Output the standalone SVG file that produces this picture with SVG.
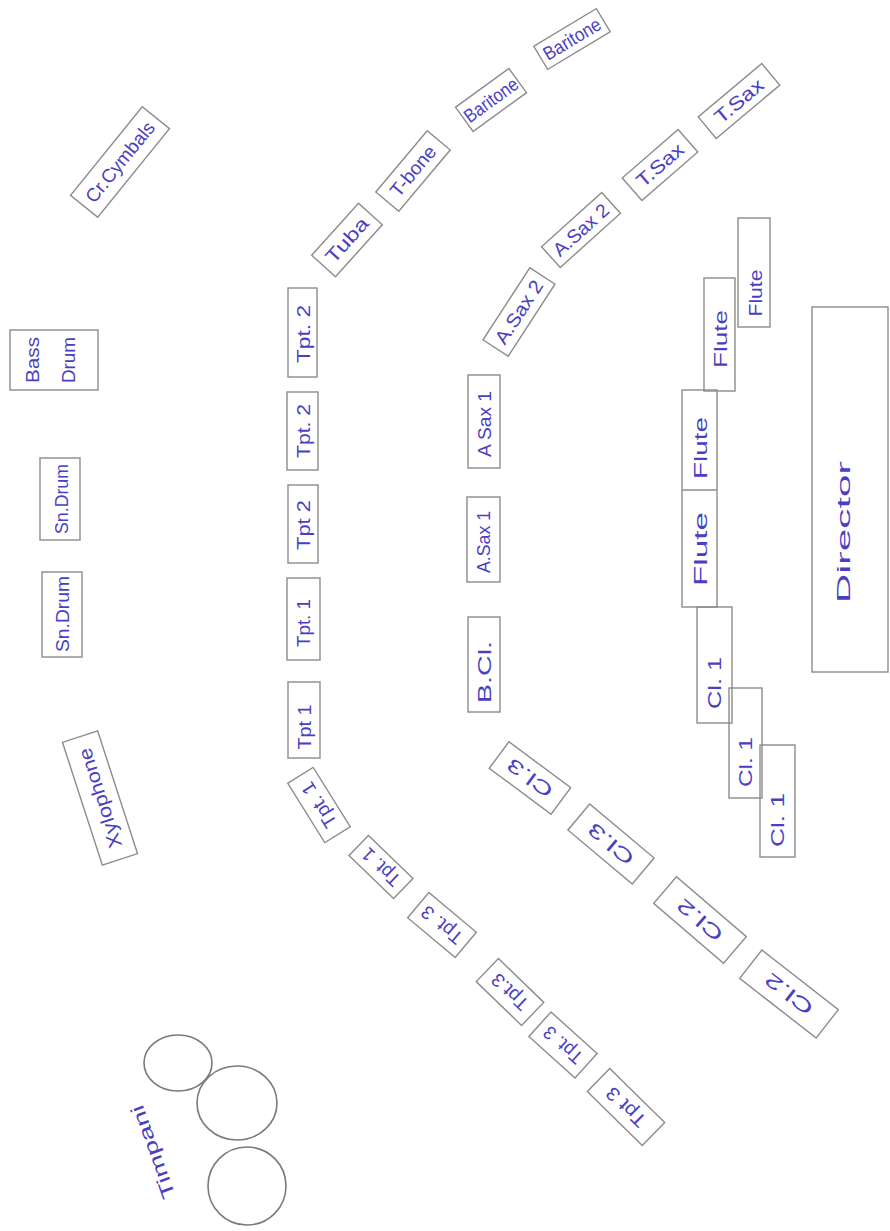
<svg xmlns="http://www.w3.org/2000/svg" width="890" height="1231" viewBox="0 0 890 1231">
<style>
.bx{fill:none;stroke:#8c8c8c;stroke-width:1.4}
.ln{fill:none;stroke:#8c8c8c;stroke-width:1.4}
.dr{fill:none;stroke:#7a7a7a;stroke-width:1.6}
.t{font-family:"Liberation Sans","DejaVu Sans",sans-serif;fill:#4a3fc2;text-anchor:middle;dominant-baseline:central;font-size:19px}
</style>
<rect width="890" height="1231" fill="#ffffff"/>

<!-- Percussion -->
<g id="cr-cymbals" transform="translate(120,162) rotate(-51)"><rect class="bx" x="-57" y="-17.5" width="114" height="35"/><text class="t" textLength="98" lengthAdjust="spacingAndGlyphs">Cr.Cymbals</text></g>
<g id="bass-drum"><rect class="bx" x="10" y="330" width="88" height="60"/><text class="t" font-size="22" transform="translate(32,360) rotate(-90)" textLength="46" lengthAdjust="spacingAndGlyphs">Bass</text><text class="t" font-size="22" transform="translate(68,360) rotate(-90)" textLength="46" lengthAdjust="spacingAndGlyphs">Drum</text></g>
<g id="sn-drum-1"><rect class="bx" x="40" y="458" width="40" height="82"/><text class="t" font-size="20" transform="translate(61,499) rotate(-90)" textLength="70" lengthAdjust="spacingAndGlyphs">Sn.Drum</text></g>
<g id="sn-drum-2"><rect class="bx" x="42" y="572" width="40" height="85"/><text class="t" font-size="20" transform="translate(62,614) rotate(-90)" textLength="76" lengthAdjust="spacingAndGlyphs">Sn.Drum</text></g>
<g id="xylophone" transform="translate(100,798) rotate(-108)"><rect class="bx" x="-64.5" y="-18.5" width="129" height="37"/><text class="t" font-size="20" textLength="104" lengthAdjust="spacingAndGlyphs">Xylophone</text></g>
<g id="timpani"><ellipse class="dr" cx="178" cy="1063" rx="34" ry="28"/><ellipse class="dr" cx="237" cy="1103" rx="40" ry="37"/><ellipse class="dr" cx="247" cy="1186" rx="39" ry="39"/><text class="t" font-size="24" transform="translate(153,1152) rotate(-110)" textLength="98" lengthAdjust="spacingAndGlyphs">Timpani</text></g>

<!-- Low brass row -->
<g id="tuba" transform="translate(347,240) rotate(-48)"><rect class="bx" x="-35" y="-16" width="70" height="32"/><text class="t" font-size="20" textLength="54" lengthAdjust="spacingAndGlyphs">Tuba</text></g>
<g id="t-bone" transform="translate(413,171) rotate(-50)"><rect class="bx" x="-40" y="-15" width="80" height="30"/><text class="t" font-size="19" textLength="60" lengthAdjust="spacingAndGlyphs">T-bone</text></g>
<g id="baritone-1" transform="translate(491,100) rotate(-36)"><rect class="bx" x="-33" y="-15" width="66" height="30"/><text class="t" font-size="18" textLength="62" lengthAdjust="spacingAndGlyphs">Baritone</text></g>
<g id="baritone-2" transform="translate(572,39) rotate(-31)"><rect class="bx" x="-36.5" y="-13.5" width="73" height="27"/><text class="t" font-size="17" textLength="64" lengthAdjust="spacingAndGlyphs">Baritone</text></g>

<!-- Trumpets -->
<g id="tpt2-a"><rect class="bx" x="288" y="288" width="29" height="89"/><text class="t" font-size="20" transform="translate(303,334) rotate(-90)" textLength="58" lengthAdjust="spacingAndGlyphs">Tpt. 2</text></g>
<g id="tpt2-b"><rect class="bx" x="287" y="392" width="31" height="78"/><text class="t" font-size="20" transform="translate(303,431) rotate(-90)" textLength="54" lengthAdjust="spacingAndGlyphs">Tpt. 2</text></g>
<g id="tpt2-c"><rect class="bx" x="288" y="485" width="30" height="78"/><text class="t" font-size="20" transform="translate(303,525) rotate(-90)" textLength="50" lengthAdjust="spacingAndGlyphs">Tpt 2</text></g>
<g id="tpt1-a"><rect class="bx" x="287" y="578" width="33" height="82"/><text class="t" font-size="20" transform="translate(303,623) rotate(-90)" textLength="48" lengthAdjust="spacingAndGlyphs">Tpt. 1</text></g>
<g id="tpt1-b"><rect class="bx" x="288" y="682" width="32" height="76"/><text class="t" font-size="20" transform="translate(304,727) rotate(-90)" textLength="45" lengthAdjust="spacingAndGlyphs">Tpt 1</text></g>
<g id="tpt1-c" transform="translate(319,805) rotate(58)"><rect class="bx" x="-35" y="-15" width="70" height="30"/><text class="t" font-size="19" transform="rotate(180)" textLength="50" lengthAdjust="spacingAndGlyphs">Tpt. 1</text></g>
<g id="tpt1-d" transform="translate(381,867) rotate(44)"><rect class="bx" x="-31" y="-14" width="62" height="28"/><text class="t" font-size="19" transform="rotate(180)" textLength="46" lengthAdjust="spacingAndGlyphs">Tpt. 1</text></g>
<g id="tpt3-a" transform="translate(442,925) rotate(40)"><rect class="bx" x="-31" y="-16.5" width="62" height="33"/><text class="t" font-size="19" transform="rotate(180)" textLength="48" lengthAdjust="spacingAndGlyphs">Tpt. 3</text></g>
<g id="tpt3-b" transform="translate(510,992) rotate(44)"><rect class="bx" x="-31.5" y="-16" width="63" height="32"/><text class="t" font-size="19" transform="rotate(180)" textLength="44" lengthAdjust="spacingAndGlyphs">Tpt.3</text></g>
<g id="tpt3-c" transform="translate(563,1045) rotate(42)"><rect class="bx" x="-31" y="-16.5" width="62" height="33"/><text class="t" font-size="19" transform="rotate(180)" textLength="46" lengthAdjust="spacingAndGlyphs">Tpt. 3</text></g>
<g id="tpt3-d" transform="translate(626,1107) rotate(44.5)"><rect class="bx" x="-38.5" y="-16" width="77" height="32"/><text class="t" font-size="19" transform="rotate(180)" textLength="48" lengthAdjust="spacingAndGlyphs">Tpt 3</text></g>

<!-- Saxes / bass clarinet -->
<g id="asax1-a"><rect class="bx" x="468" y="375" width="32" height="93"/><text class="t" font-size="18" transform="translate(484,424) rotate(-90)" textLength="66" lengthAdjust="spacingAndGlyphs">A Sax 1</text></g>
<g id="asax1-b"><rect class="bx" x="467" y="497" width="33" height="85"/><text class="t" font-size="18" transform="translate(483,542) rotate(-90)" textLength="62" lengthAdjust="spacingAndGlyphs">A.Sax 1</text></g>
<g id="b-cl"><rect class="bx" x="468" y="617" width="32" height="95"/><text class="t" font-size="22" transform="translate(484,672) rotate(-90)" textLength="62" lengthAdjust="spacingAndGlyphs">B.Cl.</text></g>
<g id="asax2-a" transform="translate(519,312) rotate(-57)"><rect class="bx" x="-43" y="-15" width="86" height="30"/><text class="t" font-size="19" textLength="72" lengthAdjust="spacingAndGlyphs">A.Sax 2</text></g>
<g id="asax2-b" transform="translate(581,230) rotate(-42)"><rect class="bx" x="-40.5" y="-14" width="81" height="28"/><text class="t" font-size="18" textLength="68" lengthAdjust="spacingAndGlyphs">A.Sax 2</text></g>
<g id="tsax-a" transform="translate(660,165) rotate(-41)"><rect class="bx" x="-37" y="-15" width="74" height="30"/><text class="t" font-size="19" textLength="56" lengthAdjust="spacingAndGlyphs">T.Sax</text></g>
<g id="tsax-b" transform="translate(739,101) rotate(-40)"><rect class="bx" x="-41.5" y="-14" width="83" height="28"/><text class="t" font-size="19" textLength="58" lengthAdjust="spacingAndGlyphs">T.Sax</text></g>

<!-- Clarinets 2/3 -->
<g id="cl3-a" transform="translate(530,778) rotate(36.6)"><rect class="bx" x="-38.5" y="-16.5" width="77" height="33"/><text class="t" font-size="21" transform="rotate(180)" textLength="52" lengthAdjust="spacingAndGlyphs">Cl.3</text></g>
<g id="cl3-b" transform="translate(611,844) rotate(40)"><rect class="bx" x="-42" y="-17" width="84" height="34"/><text class="t" font-size="21" transform="rotate(180)" textLength="54" lengthAdjust="spacingAndGlyphs">Cl.3</text></g>
<g id="cl2-a" transform="translate(700,920) rotate(40.6)"><rect class="bx" x="-46" y="-17.5" width="92" height="35"/><text class="t" font-size="21" transform="rotate(180)" textLength="54" lengthAdjust="spacingAndGlyphs">Cl.2</text></g>
<g id="cl2-b" transform="translate(789,994) rotate(38)"><rect class="bx" x="-48.5" y="-18" width="97" height="36"/><text class="t" font-size="21" transform="rotate(180)" textLength="56" lengthAdjust="spacingAndGlyphs">Cl.2</text></g>

<!-- Flutes -->
<g id="flute-1"><rect class="bx" x="738" y="218" width="32" height="109"/><text class="t" font-size="18" transform="translate(755,293) rotate(-90)" textLength="47" lengthAdjust="spacingAndGlyphs">Flute</text></g>
<g id="flute-2"><rect class="bx" x="704" y="278" width="31" height="113"/><text class="t" font-size="21" transform="translate(720,339) rotate(-90)" textLength="58" lengthAdjust="spacingAndGlyphs">Flute</text></g>
<g id="flute-3-4"><rect class="bx" x="682" y="390" width="35" height="217"/><line class="ln" x1="682" y1="490" x2="717" y2="490"/><text class="t" font-size="22" transform="translate(700,448) rotate(-90)" textLength="62" lengthAdjust="spacingAndGlyphs">Flute</text><text class="t" font-size="23" transform="translate(700,549) rotate(-90)" textLength="74" lengthAdjust="spacingAndGlyphs">Flute</text></g>

<!-- Clarinet 1 -->
<g id="cl1-a"><rect class="bx" x="697" y="607" width="35" height="116"/><text class="t" font-size="24" transform="translate(714,683) rotate(-90)" textLength="52" lengthAdjust="spacingAndGlyphs">Cl. 1</text></g>
<g id="cl1-b"><rect class="bx" x="729" y="688" width="33" height="110"/><text class="t" font-size="24" transform="translate(745,762) rotate(-90)" textLength="50" lengthAdjust="spacingAndGlyphs">Cl. 1</text></g>
<g id="cl1-c"><rect class="bx" x="760" y="745" width="35" height="112"/><text class="t" font-size="24" transform="translate(777,820) rotate(-90)" textLength="54" lengthAdjust="spacingAndGlyphs">Cl. 1</text></g>

<!-- Director -->
<g id="director"><rect class="bx" x="812" y="307" width="76" height="365"/><text class="t" font-size="34" transform="translate(843,532) rotate(-90)" textLength="142" lengthAdjust="spacingAndGlyphs">Director</text></g>

<g id="connectors"></g>
</svg>
